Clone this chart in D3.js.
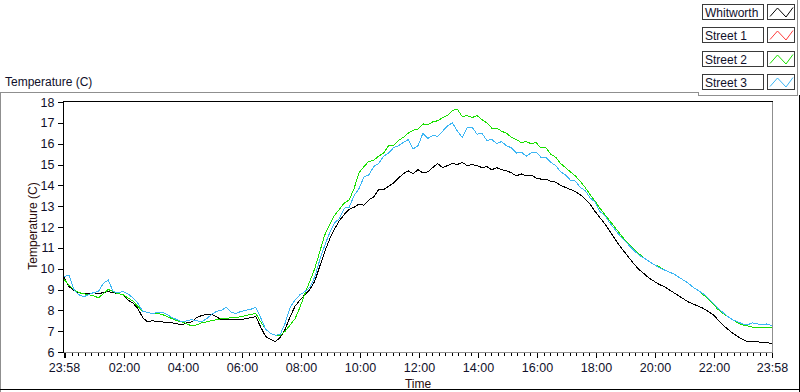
<!DOCTYPE html>
<html><head><meta charset="utf-8">
<script src="https://cdn.jsdelivr.net/npm/d3@7"></script>
<style>
html,body{margin:0;padding:0;background:#fff;}
svg{display:block;font-family:"Liberation Sans",Arial,sans-serif;}
</style></head><body>
<svg id="c" width="800" height="392"></svg>
<script>
// ---------- DATA ----------
const seriesNames = ["Whitworth", "Street 1", "Street 2", "Street 3"];
const seriesColors = ["#000000", "#ff3b3b", "#19e000", "#3cb6f4"];
const startLabel = "23:58";
const sampleMinutes = 10;

const whitworth = [
  9.6, 9.15, 8.95, 8.85, 8.8, 8.8,
  8.85, 8.8, 8.85, 8.9, 8.85, 8.8,
  8.75, 8.5, 8.35, 8.1, 7.65, 7.45,
  7.5, 7.45, 7.45, 7.4, 7.4, 7.35,
  7.3, 7.4, 7.45, 7.65, 7.75, 7.8,
  7.8, 7.7, 7.55, 7.55, 7.55, 7.55,
  7.55, 7.6, 7.65, 7.7, 7.2, 6.75,
  6.6, 6.5, 6.7, 7.1, 7.7, 8.2,
  8.5, 8.75, 9.0, 9.4, 10.1, 10.8,
  11.4, 11.9, 12.3, 12.6, 12.85, 12.95,
  13.1, 13.05, 13.3, 13.45, 13.8, 13.8,
  13.95, 14.1, 14.35, 14.55, 14.7, 14.55,
  14.75, 14.6, 14.65, 14.85, 15.05, 14.85,
  14.95, 15.05, 15.0, 15.1, 14.95, 15.0,
  14.95, 14.85, 14.9, 14.75, 14.85, 14.75,
  14.7, 14.6, 14.45, 14.55, 14.45, 14.5,
  14.35, 14.3, 14.3, 14.2, 14.15, 14.0,
  13.9, 13.8, 13.7, 13.55, 13.35, 13.1,
  12.75, 12.45, 12.15, 11.8, 11.45, 11.1,
  10.8, 10.5, 10.2, 9.95, 9.75, 9.55,
  9.4, 9.25, 9.15, 9.0, 8.85, 8.7,
  8.55, 8.4, 8.3, 8.2, 8.1, 7.95,
  7.8, 7.55, 7.3, 7.1, 6.9, 6.75,
  6.6, 6.5, 6.5, 6.5, 6.45, 6.45,
  6.4
];
const street1 = [];
const street2 = [
  9.5, 9.2, 9.0, 8.85, 8.8, 8.75,
  8.7, 8.6, 8.8, 9.0, 8.9, 8.8,
  8.75, 8.6, 8.45, 8.2, 7.95, 7.9,
  7.85, 7.85, 7.8, 7.7, 7.6, 7.5,
  7.45, 7.35, 7.25, 7.3, 7.4, 7.45,
  7.5, 7.55, 7.6, 7.6, 7.65, 7.65,
  7.7, 7.75, 7.8, 7.85, 7.45, 7.1,
  6.9, 6.8, 6.8, 7.0, 7.3, 7.6,
  8.15, 8.8, 9.4, 10.0, 10.8, 11.6,
  12.1, 12.55, 12.85, 13.15, 13.3, 13.85,
  14.6, 14.9, 15.15, 15.2, 15.4, 15.55,
  15.9, 15.9, 16.15, 16.3, 16.5, 16.65,
  16.7, 16.95, 16.9, 17.05, 17.1, 17.25,
  17.35, 17.6, 17.65, 17.3, 17.35, 17.25,
  17.35, 17.15, 17.0, 16.75, 16.75, 16.6,
  16.5, 16.3, 16.2, 16.05, 16.1, 16.0,
  16.05, 15.8, 15.8, 15.5, 15.35, 15.05,
  14.85, 14.65, 14.45, 14.2, 13.9, 13.55,
  13.25, 12.9, 12.6, 12.3, 12.0, 11.7,
  11.4, 11.15, 10.9, 10.7, 10.5, 10.35,
  10.2, 10.1, 9.95, 9.85, 9.75, 9.6,
  9.45, 9.3, 9.1, 8.95, 8.75, 8.55,
  8.3, 8.05, 7.85, 7.7, 7.55, 7.4,
  7.3, 7.25, 7.2, 7.2, 7.2, 7.2,
  7.2
];
const street3 = [
  9.6, 9.7, 9.0, 8.75, 8.65, 8.75,
  8.85, 8.9, 9.3, 9.45, 8.9, 8.85,
  8.9, 8.8, 8.6, 8.35, 7.95, 7.9,
  7.85, 7.9, 7.9, 7.8, 7.65, 7.55,
  7.45, 7.5, 7.55, 7.5, 7.45, 7.6,
  7.8, 7.95, 8.0, 8.15, 7.9, 7.85,
  7.95, 8.0, 8.05, 8.15, 7.65, 7.1,
  6.9, 6.8, 6.85, 7.4, 8.15, 8.5,
  8.75, 8.9, 9.1, 9.6, 10.4, 11.1,
  11.7, 12.2, 12.4, 12.9, 12.95, 13.5,
  13.85, 14.4, 14.5, 14.9, 15.05, 15.4,
  15.55, 15.8, 15.9, 16.05, 16.2, 15.75,
  15.9, 16.5, 16.25, 16.4, 16.35, 16.6,
  16.85, 17.0, 16.6, 16.3, 16.75, 16.8,
  16.45, 16.5, 16.15, 16.2, 16.0, 16.1,
  15.9, 15.8, 15.55, 15.6, 15.4, 15.55,
  15.6, 15.35, 15.35, 15.1, 14.95, 14.65,
  14.5, 14.25, 14.2, 13.9, 13.75, 13.4,
  13.2, 12.75, 12.55, 12.2, 11.9, 11.6,
  11.35, 11.1, 10.85, 10.65, 10.5, 10.35,
  10.2, 10.05, 9.95, 9.85, 9.75, 9.6,
  9.45, 9.3, 9.1, 8.95, 8.8, 8.6,
  8.35, 8.1, 7.9, 7.7, 7.55, 7.45,
  7.35, 7.3, 7.4, 7.35, 7.3, 7.35,
  7.25
];
const yTicks = [6, 7, 8, 9, 10, 11, 12, 13, 14, 15, 16, 17, 18];
const xTickLabels = ["23:58", "02:00", "04:00", "06:00", "08:00", "10:00", "12:00",
                     "14:00", "16:00", "18:00", "20:00", "22:00", "23:58"];
const yTitle = "Temperature (C)";
const xTitle = "Time";
const chartTitle = "Temperature (C)";

// ---------- HELPERS ----------
const svg = d3.select("#c");
const [sh, sm] = startLabel.split(":").map(Number);
const t0 = new Date(2000, 0, 1, sh, sm);
const t1 = d3.timeDay.offset(t0, 1);
function labelToDate(lbl, i) {
  const [h, m] = lbl.split(":").map(Number);
  return new Date(2000, 0, i === 0 ? 1 : 2, h, m);
}
const tickDates = xTickLabels.map(labelToDate);

const L = 64, R = 772, T = 102, B = 352;
const x = d3.scaleTime().domain([t0, t1]).range([L, R]);
const y = d3.scaleLinear().domain([6, 18]).range([B, T]);

const GRAY = "#8f8f8f";
const TXT = "#10102a";

// ---------- FRAME ----------
const frame = svg.append("g").attr("shape-rendering", "crispEdges").attr("fill", "none");
frame.append("path").attr("d", "M0,92.5H698.5V95.5H797.5V0").attr("stroke", GRAY);
frame.append("path").attr("d", "M0.5,92V392").attr("stroke", GRAY);
frame.append("path").attr("d", "M0,389.5H800").attr("stroke", "#000");
frame.append("path").attr("d", "M799.5,95V392").attr("stroke", "#000");

// title
svg.append("text").attr("x", 5).attr("y", 86).attr("font-size", 12).attr("fill", TXT).text(chartTitle);

// ---------- PLOT BORDER ----------
const pb = svg.append("g").attr("shape-rendering", "crispEdges").attr("fill", "none");
pb.append("path").attr("d", `M${L - 0.5},${B}V${T - 0.5}H${R + 0.5}`).attr("stroke", "#000");
pb.append("path").attr("d", `M${R + 0.5},${T - 0.5}V${B + 0.5}H${L - 0.5}`).attr("stroke", GRAY);

// ---------- AXES ----------
const yAxis = d3.axisLeft(y).tickValues(yTicks).tickSize(6).tickPadding(3).tickFormat(d3.format("d"));
const gy = svg.append("g").attr("transform", `translate(${L - 0.5},0)`).call(yAxis);
gy.select(".domain").remove();
gy.selectAll("line").attr("stroke", "#000").attr("shape-rendering", "crispEdges");
gy.selectAll("text").attr("font-family", "Liberation Sans, Arial, sans-serif")
  .attr("font-size", 12.5).attr("fill", TXT);

// minor x ticks (9 intervals between labelled ticks)
const minor = [];
const step = 2 * 3600 * 1000 / 9;
for (let k = -20; k < 120; k++) {
  const d = new Date(tickDates[1].getTime() + k * step);
  if (d > t0 && d < t1) minor.push(d);
}
const gxm = svg.append("g").attr("transform", `translate(0,${B + 0.5})`)
  .call(d3.axisBottom(x).tickValues(minor).tickSize(3).tickFormat(""));
gxm.select(".domain").remove();
gxm.selectAll("line").attr("stroke", "#000").attr("shape-rendering", "crispEdges");

const gx = svg.append("g").attr("transform", `translate(0,${B + 0.5})`)
  .call(d3.axisBottom(x).tickValues(tickDates).tickSize(5).tickFormat((d, i) => xTickLabels[i]));
gx.select(".domain").remove();
gx.selectAll("line").attr("stroke", "#000").attr("shape-rendering", "crispEdges");
gx.selectAll("line").filter((d, i) => i === 0).attr("stroke-width", 2);
gx.selectAll("text").attr("font-family", "Liberation Sans, Arial, sans-serif")
  .attr("font-size", 12.5).attr("fill", TXT).attr("y", 19.5).attr("dy", 0);

// axis titles
svg.append("text").attr("transform", `translate(37,226) rotate(-90)`)
  .attr("text-anchor", "middle").attr("font-size", 12).attr("fill", "#2a0c0c").text(yTitle);
svg.append("text").attr("x", (L + R) / 2).attr("y", 388).attr("text-anchor", "middle")
  .attr("font-size", 12).attr("fill", "#2a0c0c").text(xTitle);

// ---------- LINES ----------
const allSeries = [whitworth, street1, street2, street3];
const line = d3.line()
  .x((d, i) => x(new Date(t0.getTime() + i * sampleMinutes * 60000)))
  .y(d => y(d));
const gl = svg.append("g");
allSeries.forEach((s, k) => {
  if (!s.length) return;
  gl.append("path").datum(s).attr("d", line).attr("fill", "none")
    .attr("stroke", seriesColors[k]).attr("stroke-width", 1)
    .attr("shape-rendering", "crispEdges");
});

// ---------- LEGEND ----------
const lg = svg.append("g");
seriesNames.forEach((n, k) => {
  const top = 4 + k * 23.33;
  const ty = Math.round(top) + 0.5;
  lg.append("rect").attr("x", 702.5).attr("y", ty).attr("width", 61).attr("height", 15)
    .attr("fill", "#fff").attr("stroke", "#3a3a3a").attr("shape-rendering", "crispEdges");
  lg.append("text").attr("x", 705).attr("y", ty + 12).attr("font-size", 12).attr("fill", TXT).text(n);
  lg.append("rect").attr("x", 767.5).attr("y", ty).attr("width", 27).attr("height", 15)
    .attr("fill", "#fff").attr("stroke", "#3a3a3a").attr("shape-rendering", "crispEdges");
  const pts = [[770, ty + 12], [777.5, ty + 3.5], [786, ty + 12.5], [793, ty + 3]];
  lg.append("path").attr("d", d3.line()(pts)).attr("fill", "none")
    .attr("stroke", seriesColors[k]).attr("stroke-width", 1);
});
</script>
</body></html>
